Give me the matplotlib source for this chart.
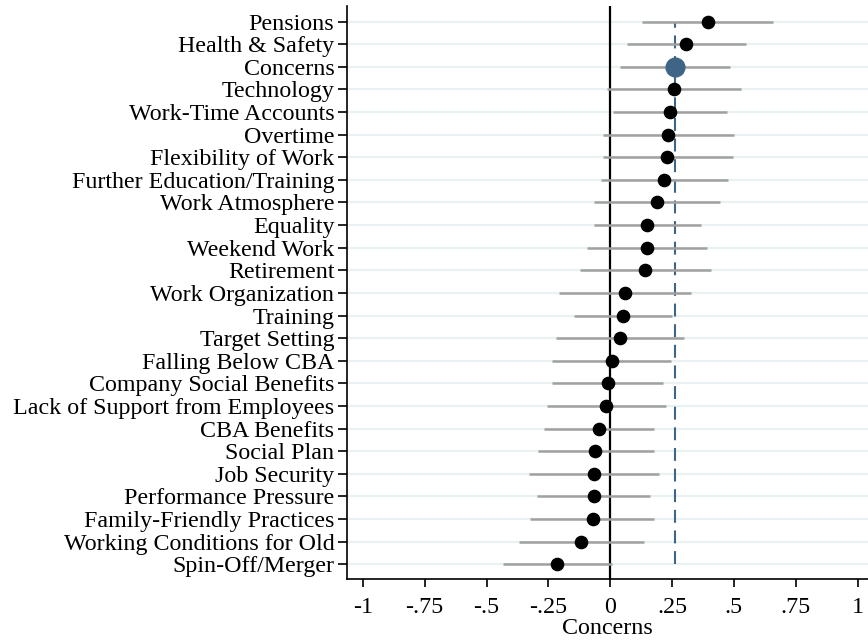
import numpy as np
import matplotlib
matplotlib.use("Agg")
import matplotlib.pyplot as plt

# Coefficients and 95% CIs, top to bottom as drawn
labels = ["Pensions", "Health & Safety", "Concerns", "Technology", "Work-Time Accounts",
          "Overtime", "Flexibility of Work", "Further Education/Training", "Work Atmosphere",
          "Equality", "Weekend Work", "Retirement", "Work Organization", "Training",
          "Target Setting", "Falling Below CBA", "Company Social Benefits",
          "Lack of Support from Employees", "CBA Benefits", "Social Plan", "Job Security",
          "Performance Pressure", "Family-Friendly Practices", "Working Conditions for Old",
          "Spin-Off/Merger"]
coef = [0.394, 0.307, 0.260, 0.257, 0.242, 0.234, 0.231, 0.218, 0.188,
        0.149, 0.149, 0.141, 0.058, 0.050, 0.040, 0.007, -0.009, -0.016,
        -0.044, -0.061, -0.066, -0.066, -0.071, -0.118, -0.214]
ci_low = [0.128, 0.067, 0.038, -0.011, 0.013, -0.030, -0.030, -0.038, -0.067,
          -0.065, -0.092, -0.124, -0.207, -0.147, -0.218, -0.234, -0.234, -0.257,
          -0.269, -0.293, -0.330, -0.295, -0.324, -0.367, -0.433]
ci_high = [0.659, 0.549, 0.484, 0.528, 0.471, 0.501, 0.495, 0.475, 0.444,
           0.366, 0.392, 0.406, 0.327, 0.249, 0.299, 0.246, 0.215, 0.227,
           0.178, 0.175, 0.198, 0.161, 0.179, 0.135, 0.007]
highlight = "Concerns"
ref_value = 0.262

xticks = [-1, -0.75, -0.5, -0.25, 0, 0.25, 0.5, 0.75, 1]
xticklabels = ["-1", "-.75", "-.5", "-.25", "0", ".25", ".5", ".75", "1"]

plt.rcParams['font.family'] = ['Liberation Serif', 'DejaVu Serif']

fig = plt.figure(figsize=(8.68, 6.43), dpi=100)
ax = fig.add_axes([0.4003, 0.0995, 0.5997, 0.8912])

n = len(labels)
ypos = np.arange(n)[::-1]
navy = '#3e6585'

# light row guides
for y in ypos:
    ax.axhline(y, color='#e9f1f3', lw=1.6, zorder=0)

ax.axvline(0, color='black', lw=1.6, zorder=1)
ax.vlines(ref_value, ypos.min(), ypos.max(), color=navy, lw=1.5,
          linestyles=(0, (6.2, 3.7)), zorder=1)

ax.hlines(ypos, ci_low, ci_high, color='#a0a0a0', lw=1.8, zorder=2)

for y, c, lab in zip(ypos, coef, labels):
    if lab == highlight:
        ax.plot(c, y, 'o', color=navy, ms=13.5, zorder=3)
    else:
        ax.plot(c, y, 'o', color='black', ms=8.8, zorder=3)

fs = 17.3
ax.set_yticks(ypos)
ax.set_yticklabels(labels, fontsize=fs)
ax.set_xticks(xticks)
ax.set_xticklabels(xticklabels, fontsize=fs)
ax.set_xlim(-1.062, 1.042)
ax.set_ylim(-0.65, 24.69)
ax.set_xlabel("Concerns", fontsize=fs, labelpad=0)

ax.spines['top'].set_visible(False)
ax.spines['right'].set_visible(False)
ax.spines['left'].set_linewidth(1.2)
ax.spines['bottom'].set_linewidth(1.2)
ax.tick_params(axis='y', length=6.5, width=1.2, pad=3)
ax.tick_params(axis='x', length=6, width=1.2, pad=7)

fig.savefig('out.png', dpi=100)
